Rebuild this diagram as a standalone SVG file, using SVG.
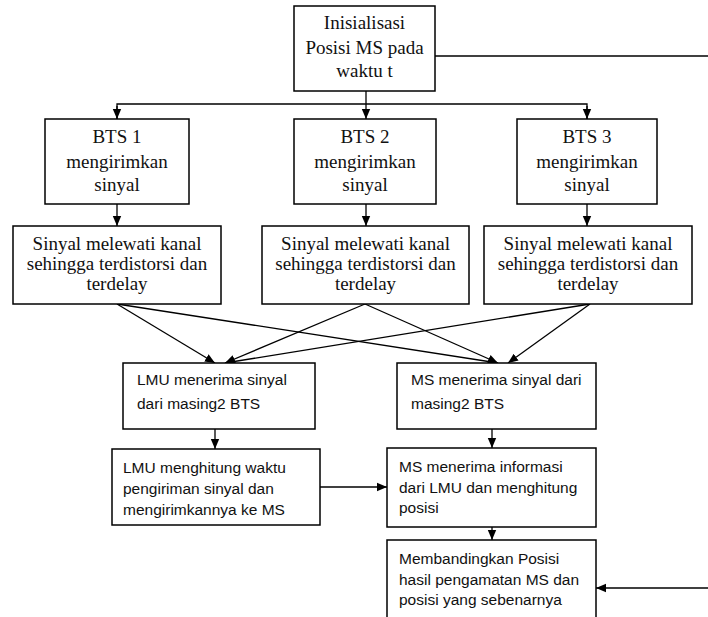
<svg xmlns="http://www.w3.org/2000/svg" width="708" height="617" viewBox="0 0 708 617">
<style>
.box{fill:#fff;stroke:#000;stroke-width:1.5}
.serif{font-family:"Liberation Serif","Times New Roman",serif;font-size:19px;fill:#111;text-anchor:middle}
.sans{font-family:"Liberation Sans",Arial,sans-serif;font-size:15.5px;fill:#111}
.ln{fill:none;stroke:#000;stroke-width:1.3}
</style>
<defs>
<marker id="ah" markerUnits="userSpaceOnUse" markerWidth="10" markerHeight="10" viewBox="0 0 10 10" refX="10" refY="5" orient="auto">
<path d="M0,0.8 L10,5 L0,9.2 Z" fill="#000"/>
</marker>
</defs>
<rect width="708" height="617" fill="#fff"/>
<g id="connectors">
<line class="ln" x1="435" y1="56" x2="708" y2="56"/>
<line class="ln" x1="366" y1="91" x2="366" y2="119" marker-end="url(#ah)"/>
<polyline class="ln" points="117,119 117,104 587,104 587,119" />
<line class="ln" x1="117" y1="106" x2="117" y2="119" marker-end="url(#ah)"/>
<line class="ln" x1="587" y1="106" x2="587" y2="119" marker-end="url(#ah)"/>
<line class="ln" x1="117" y1="204" x2="117" y2="226" marker-end="url(#ah)"/>
<line class="ln" x1="366" y1="204" x2="366" y2="226" marker-end="url(#ah)"/>
<line class="ln" x1="587" y1="204" x2="587" y2="226" marker-end="url(#ah)"/>
<line class="ln" x1="117" y1="304" x2="215" y2="363" marker-end="url(#ah)"/>
<line class="ln" x1="117" y1="304" x2="498" y2="363" marker-end="url(#ah)"/>
<line class="ln" x1="365" y1="304" x2="225" y2="363" marker-end="url(#ah)"/>
<line class="ln" x1="365" y1="304" x2="498" y2="363" marker-end="url(#ah)"/>
<line class="ln" x1="590" y1="304" x2="225" y2="363" marker-end="url(#ah)"/>
<line class="ln" x1="590" y1="304" x2="508" y2="363" marker-end="url(#ah)"/>
<line class="ln" x1="215" y1="429" x2="215" y2="449" marker-end="url(#ah)"/>
<line class="ln" x1="492" y1="429" x2="492" y2="448" marker-end="url(#ah)"/>
<line class="ln" x1="320" y1="487" x2="387" y2="487" marker-end="url(#ah)"/>
<line class="ln" x1="492" y1="527" x2="492" y2="540" marker-end="url(#ah)"/>
<line class="ln" x1="708" y1="588" x2="596" y2="588" marker-end="url(#ah)"/>
</g>
<g id="init">
<rect class="box" x="294" y="6" width="141" height="85"/>
<text class="serif" x="364.5" y="29">Inisialisasi</text>
<text class="serif" x="364.5" y="54">Posisi MS pada</text>
<text class="serif" x="364.5" y="77">waktu t</text>
</g>
<g id="bts1">
<rect class="box" x="45" y="119" width="144" height="85"/>
<text class="serif" x="117" y="143">BTS 1</text>
<text class="serif" x="117" y="168">mengirimkan</text>
<text class="serif" x="117" y="191">sinyal</text>
</g>
<g id="bts2">
<rect class="box" x="294" y="119" width="142" height="85"/>
<text class="serif" x="365" y="143">BTS 2</text>
<text class="serif" x="365" y="168">mengirimkan</text>
<text class="serif" x="365" y="191">sinyal</text>
</g>
<g id="bts3">
<rect class="box" x="517" y="119" width="140" height="85"/>
<text class="serif" x="587" y="143">BTS 3</text>
<text class="serif" x="587" y="168">mengirimkan</text>
<text class="serif" x="587" y="191">sinyal</text>
</g>
<g id="kanal1">
<rect class="box" x="13" y="226" width="208" height="78"/>
<text class="serif" x="117" y="250">Sinyal melewati kanal</text>
<text class="serif" x="117" y="270">sehingga terdistorsi dan</text>
<text class="serif" x="117" y="290">terdelay</text>
</g>
<g id="kanal2">
<rect class="box" x="262" y="226" width="207" height="78"/>
<text class="serif" x="365.5" y="250">Sinyal melewati kanal</text>
<text class="serif" x="365.5" y="270">sehingga terdistorsi dan</text>
<text class="serif" x="365.5" y="290">terdelay</text>
</g>
<g id="kanal3">
<rect class="box" x="484" y="226" width="208" height="78"/>
<text class="serif" x="588" y="250">Sinyal melewati kanal</text>
<text class="serif" x="588" y="270">sehingga terdistorsi dan</text>
<text class="serif" x="588" y="290">terdelay</text>
</g>
<g id="lmu1">
<rect class="box" x="123" y="363" width="192" height="66"/>
<text class="sans" x="137" y="385">LMU menerima sinyal</text>
<text class="sans" x="137" y="409">dari masing2 BTS</text>
</g>
<g id="ms1">
<rect class="box" x="397" y="363" width="199" height="66"/>
<text class="sans" x="411" y="385">MS menerima sinyal dari</text>
<text class="sans" x="411" y="409">masing2 BTS</text>
</g>
<g id="lmu2">
<rect class="box" x="112" y="449" width="208" height="76"/>
<text class="sans" x="123" y="473">LMU menghitung waktu</text>
<text class="sans" x="123" y="494">pengiriman sinyal dan</text>
<text class="sans" x="123" y="515">mengirimkannya ke MS</text>
</g>
<g id="ms2">
<rect class="box" x="387" y="448" width="209" height="79"/>
<text class="sans" x="399" y="472">MS menerima informasi</text>
<text class="sans" x="399" y="493">dari LMU dan menghitung</text>
<text class="sans" x="399" y="513">posisi</text>
</g>
<g id="banding">
<rect class="box" x="387" y="540" width="209" height="90"/>
<text class="sans" x="399" y="564">Membandingkan Posisi</text>
<text class="sans" x="399" y="585">hasil pengamatan MS dan</text>
<text class="sans" x="399" y="605">posisi yang sebenarnya</text>
</g>
</svg>
